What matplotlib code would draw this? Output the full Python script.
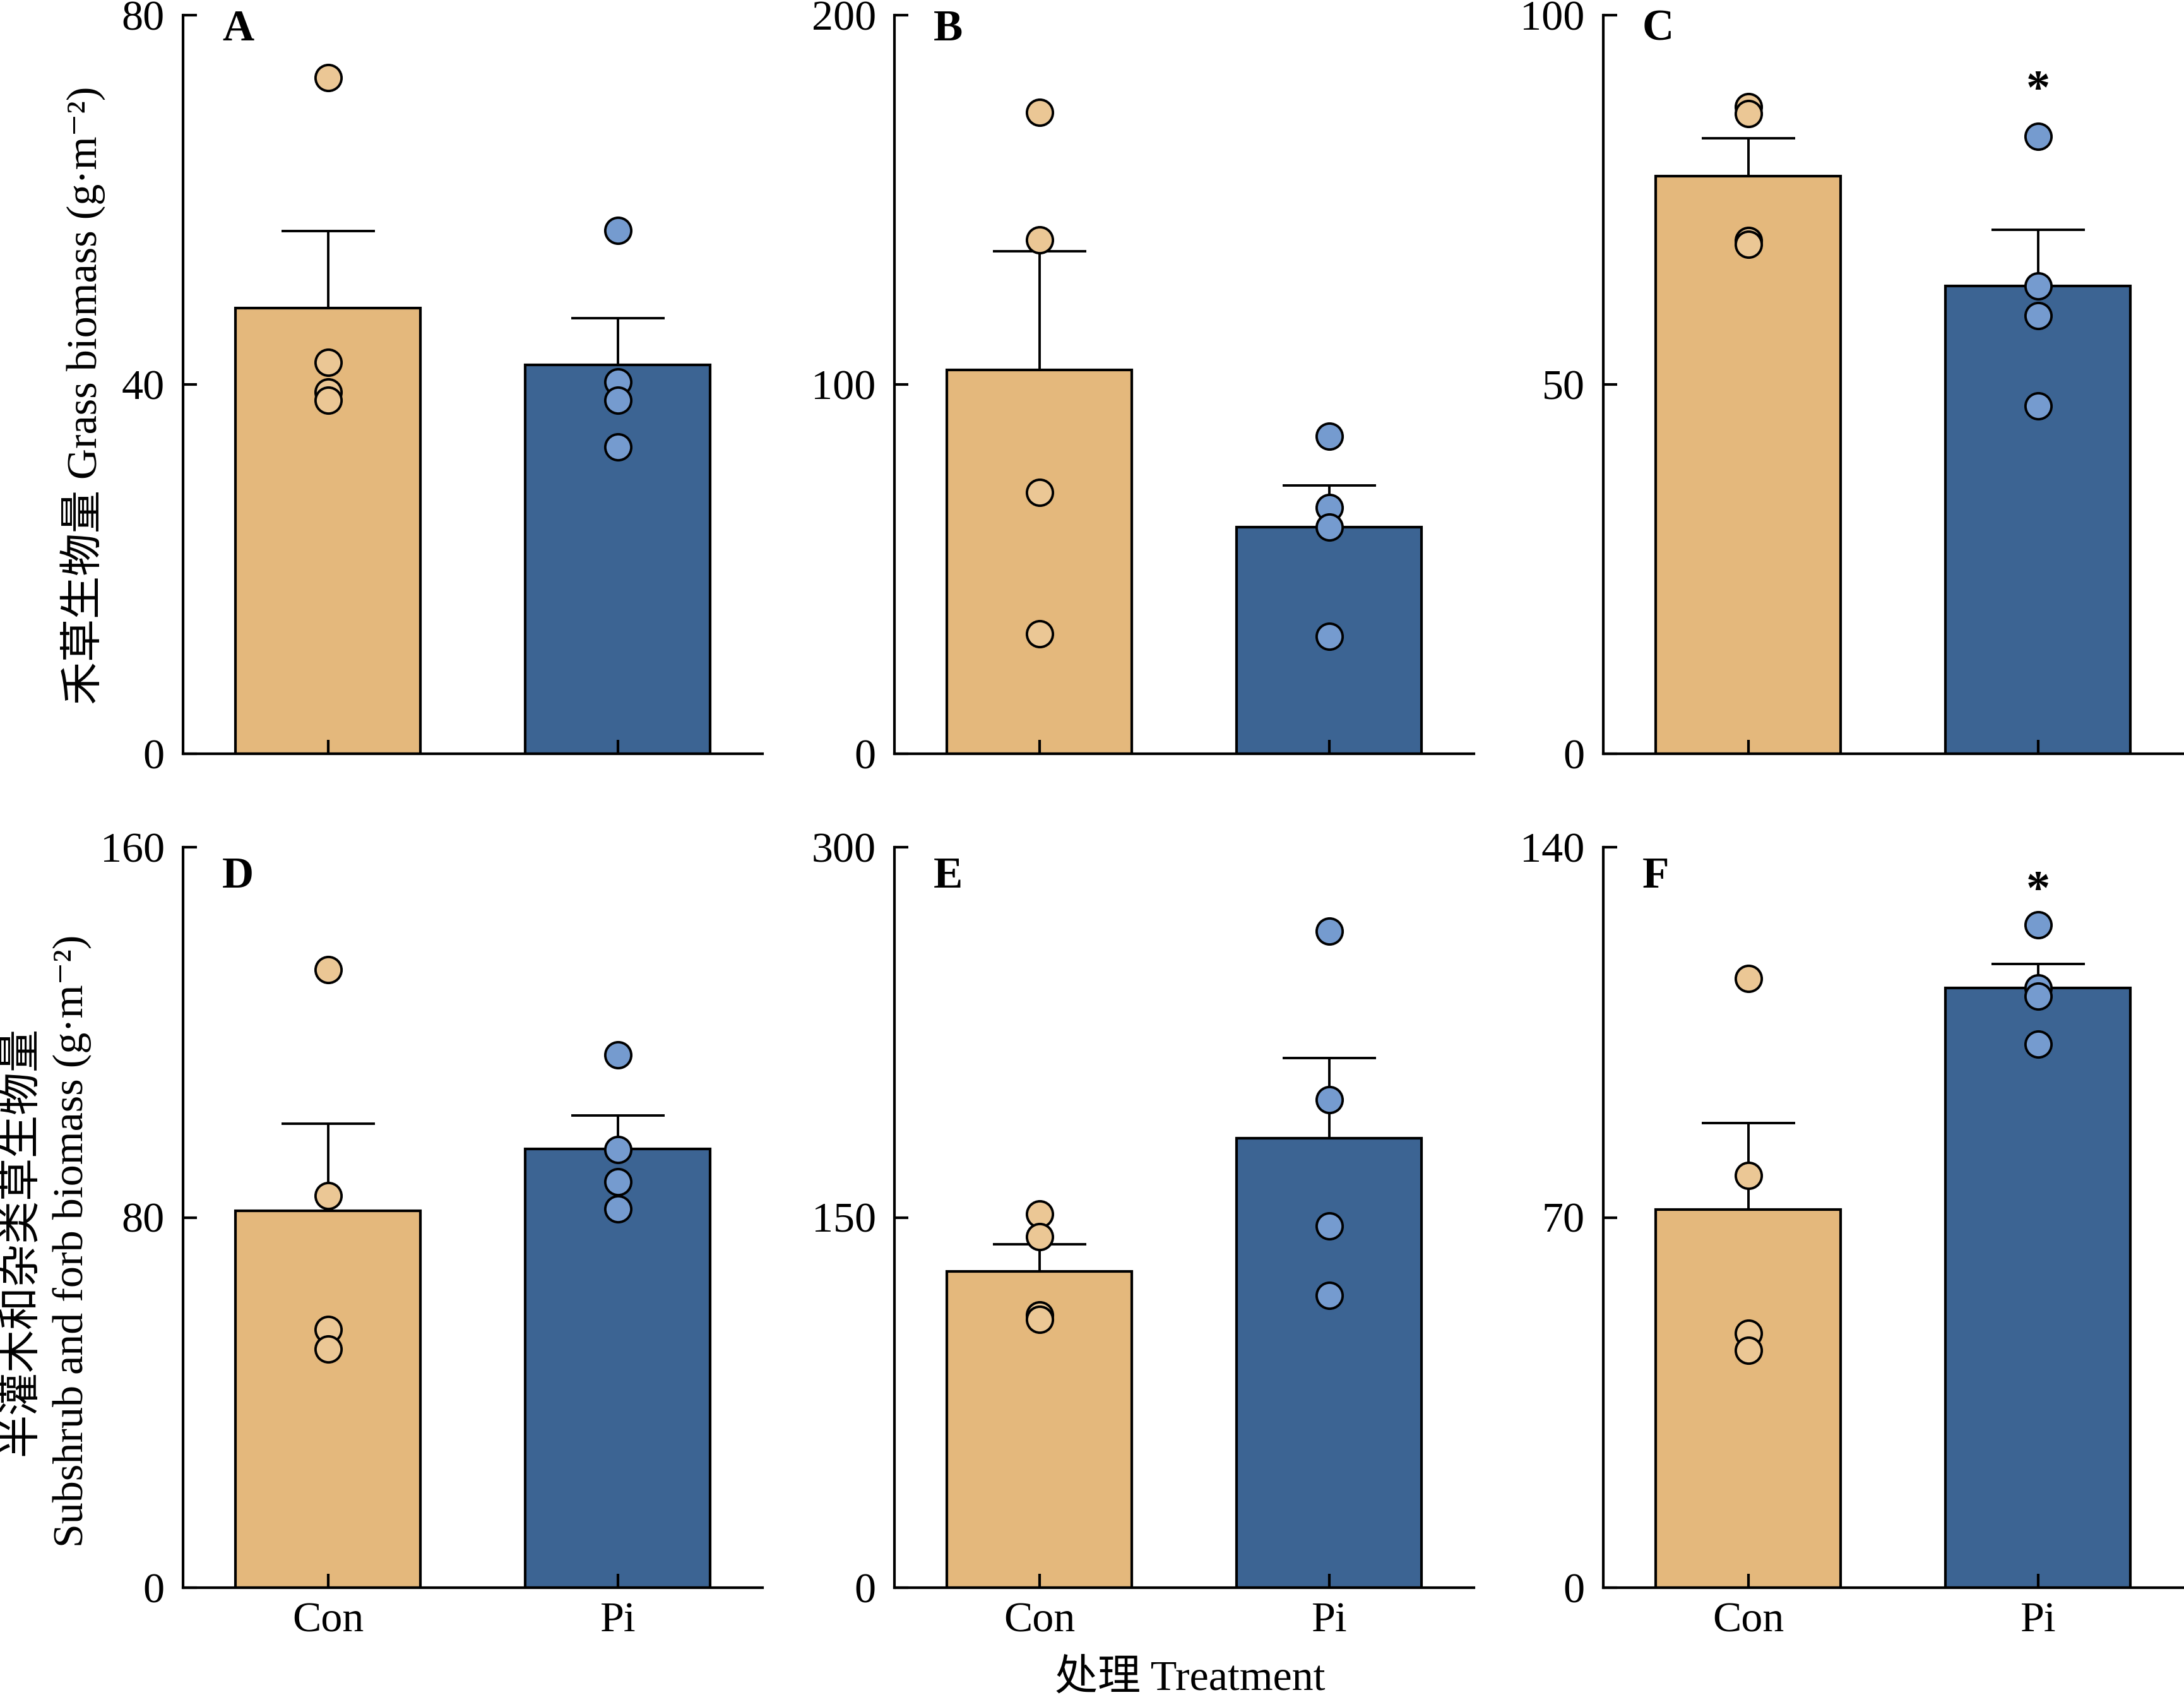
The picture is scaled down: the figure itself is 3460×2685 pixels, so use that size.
import numpy as np
import matplotlib
matplotlib.use("Agg")
import matplotlib.pyplot as plt

plt.rcParams['font.family'] = ['Liberation Serif', 'Noto Sans CJK SC', 'DejaVu Serif']

# ----------------------------
# Data
# ----------------------------
groups = ['Con', 'Pi']
panel_letters = ['A', 'B', 'C', 'D', 'E', 'F']

# grass biomass (top row)
a_con = [73.2, 42.4, 39.2, 38.3]
a_pi = [56.7, 40.3, 38.3, 33.2]
b_con = [173.6, 139.1, 70.8, 32.4]
b_pi = [85.9, 66.6, 61.3, 31.8]
c_con = [87.6, 86.7, 69.5, 69.0]
c_pi = [83.6, 63.3, 59.3, 47.1]

# subshrub and forb biomass (bottom row)
d_con = [133.5, 84.7, 55.8, 51.5]
d_pi = [115.1, 94.7, 87.7, 81.8]
e_con = [151.4, 142.2, 110.6, 108.6]
e_pi = [266.0, 197.6, 146.6, 118.4]
f_con = [115.2, 77.9, 48.1, 44.9]
f_pi = [125.3, 113.4, 111.8, 102.8]

y_max = [80, 200, 100, 160, 300, 140]
# significance star height (None = no star)
star_y = [None, None, 90.8, None, None, 133.1]

con_data = [a_con, b_con, c_con, d_con, e_con, f_con]
pi_data = [a_pi, b_pi, c_pi, d_pi, e_pi, f_pi]

bar_colors = ['#E4B87C', '#3C6493']
dot_colors = ['#EBC795', '#759BCF']

# ----------------------------
# Figure
# ----------------------------
W, H = 3460, 2685
fig = plt.figure(figsize=(W / 100, H / 100), dpi=100)

col_left = [290, 1417, 2540]
ax_w = 918
row_top = [24, 1342]
row_bot = [1194, 2515]

for k in range(6):
    r, c = divmod(k, 3)
    rect = [col_left[c] / W, 1 - row_bot[r] / H, ax_w / W, (row_bot[r] - row_top[r]) / H]
    ax = fig.add_axes(rect)

    vals = [np.array(con_data[k]), np.array(pi_data[k])]
    means = [v.mean() for v in vals]
    ses = [v.std(ddof=1) / np.sqrt(len(v)) for v in vals]
    x = np.arange(len(groups))

    ax.bar(x, means, width=0.64, color=bar_colors, edgecolor='k', linewidth=3, zorder=1)
    ax.errorbar(x, means, yerr=[[0, 0], ses], fmt='none', ecolor='k',
                elinewidth=2.8, capsize=53, capthick=2.8, zorder=2)
    for i, v in enumerate(vals):
        ax.scatter(np.full(len(v), x[i]), v, s=880, color=dot_colors[i],
                   edgecolors='k', linewidths=2.8, zorder=3, clip_on=False)

    if star_y[k] is not None:
        ax.annotate('*', (1, star_y[k]), xytext=(0, -9), textcoords='offset points',
                    ha='center', va='center', fontsize=55, fontweight='bold')

    ax.set_xlim(-0.5, 1.5)
    ax.set_ylim(0, y_max[k])
    ax.set_yticks([0, y_max[k] / 2, y_max[k]])
    ax.set_yticklabels([f"{t:g}" for t in [0, y_max[k] / 2, y_max[k]]])
    ax.set_xticks(x)
    if r == 1:
        ax.set_xticklabels(groups)
    else:
        ax.set_xticklabels([])

    for s in ['top', 'right']:
        ax.spines[s].set_visible(False)
    for s in ['left', 'bottom']:
        ax.spines[s].set_linewidth(3)
    ax.tick_params(direction='in', length=16, width=3, labelsize=49)
    ax.tick_params(axis='y', pad=21)
    ax.tick_params(axis='x', pad=16)

    top_px = 40 if r == 0 else 64
    ax.text(62 / ax_w, 1 - top_px / (row_bot[r] - row_top[r]), panel_letters[k],
            transform=ax.transAxes, ha='left', va='baseline', fontsize=50, fontweight='bold')

# axis labels
fig.text(132 / W, 1 - 626 / H, '禾草生物量 Grass biomass (g·m⁻²)',
         rotation=90, ha='center', va='center', fontsize=49)
fig.text(74 / W, 1 - 1966 / H, '半灌木和杂类草生物量\nSubshrub and forb biomass (g·m⁻²)',
         rotation=90, ha='center', va='center', fontsize=49, multialignment='center',
         linespacing=1.4)
fig.text(1885 / W, 8 / H, '处理 Treatment', ha='center', va='baseline', fontsize=49)

fig.savefig('out.png', dpi=100)
